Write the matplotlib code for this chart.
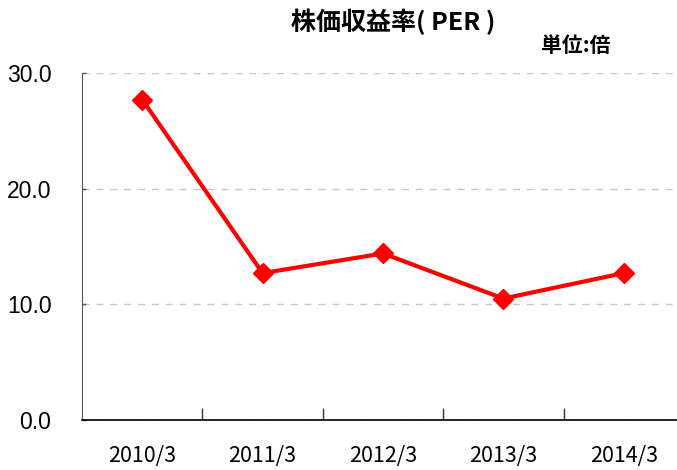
import matplotlib
matplotlib.use("Agg")
import matplotlib.pyplot as plt
from matplotlib.ticker import FixedLocator, NullFormatter

categories = ["2010/3", "2011/3", "2012/3", "2013/3", "2014/3"]
per_values = [27.7, 12.7, 14.4, 10.5, 12.7]
y_ticks = [0, 10, 20, 30]
title = "株価収益率( PER )"
unit_label = "単位:倍"

plt.rcParams['font.family'] = ['Noto Sans CJK JP', 'DejaVu Sans']

fig = plt.figure(figsize=(6.77, 4.70), dpi=100)
ax = fig.add_axes([82/677, 50/470, 602/677, 347/470])

x = list(range(len(categories)))
ax.plot(x, per_values, color="#ff0000", linewidth=3, marker="D",
        markersize=10.5, markeredgecolor="#ff0000", markerfacecolor="#ff0000",
        zorder=3, clip_on=False)

ax.set_xlim(-0.5, len(categories) - 0.5)
ax.set_ylim(0, 30)
ax.set_yticks(y_ticks)
ax.set_yticklabels([f"{v:.1f}" for v in y_ticks], fontsize=16.5,
                   family=['Liberation Sans', 'DejaVu Sans'])
ax.yaxis.grid(True, linestyle=(0, (5, 5)), color="#c8c8c8", linewidth=1)
ax.set_axisbelow(True)

ax.xaxis.set_major_locator(FixedLocator([i + 0.5 for i in range(len(categories))]))
ax.xaxis.set_major_formatter(NullFormatter())
ax.xaxis.set_minor_locator(FixedLocator(x))
ax.set_xticklabels(categories, minor=True, fontsize=15.5)
ax.tick_params(axis='x', which='major', direction='in', length=9, width=1, color='#333333')
ax.tick_params(axis='x', which='minor', length=0, pad=18)
ax.tick_params(axis='y', direction='in', length=3, width=1, pad=22, color='#555555')

ax.spines['top'].set_visible(False)
ax.spines['right'].set_visible(False)
ax.spines['left'].set_color('#555555')
ax.spines['bottom'].set_color('#000000')
ax.spines['bottom'].set_linewidth(1.2)

fig.text(393/677, 1 - 22/470, title, ha='center', va='center', fontsize=18, fontweight='bold')
fig.text(576/677, 1 - 46/470, unit_label, ha='center', va='center', fontsize=15, fontweight='bold')

fig.savefig("out.png", dpi=100)
